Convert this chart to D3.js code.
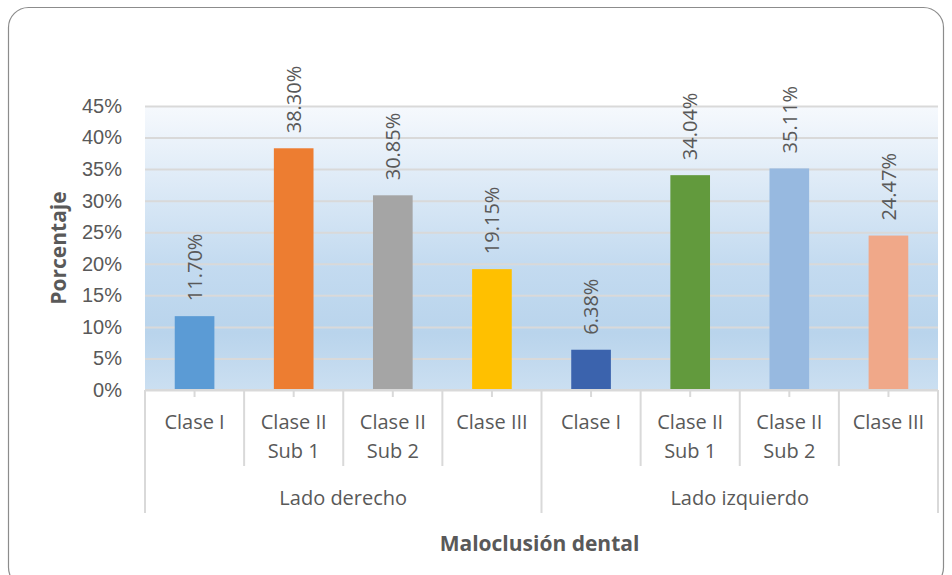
<!DOCTYPE html>
<html>
<head>
<meta charset="utf-8">
<script src="https://cdn.jsdelivr.net/npm/d3@7"></script>
<style>
  body { margin: 0; background: #fff; }
  svg { display: block; font-family: "Open Sans", sans-serif; }
</style>
</head>
<body>
<svg id="chart" width="952" height="575"></svg>
<script>
// datos de la figura
const groups = ["Lado derecho", "Lado izquierdo"];
const categories = ["Clase I", "Clase II|Sub 1", "Clase II|Sub 2", "Clase III"];
const values = [11.70, 38.30, 30.85, 19.15, 6.38, 34.04, 35.11, 24.47];
const yTicks = [0, 5, 10, 15, 20, 25, 30, 35, 40, 45];
const barColors = ["#5B9BD5", "#ED7D31", "#A5A5A5", "#FFC000",
                   "#3B63AD", "#629A3D", "#97B9E0", "#F0A889"];

const width = 952, height = 575;
const margin = {top: 106, right: 14, bottom: 185, left: 145};
const textColor = "#595959", lineColor = "#D9D9D9";

const svg = d3.select("#chart");

// borde redondeado del área de gráfico
svg.append("rect")
    .attr("x", 8.5).attr("y", 7.5)
    .attr("width", 935).attr("height", 580)
    .attr("rx", 20).attr("ry", 20)
    .attr("fill", "#fff")
    .attr("stroke", "#8c8c8c").attr("stroke-width", 1.2);

const rows = groups.flatMap((g, gi) => categories.map((c, ci) => ({
  key: g + "/" + c, group: g, cat: c, value: values[gi * categories.length + ci]
})));

const x = d3.scaleBand()
    .domain(rows.map(d => d.key))
    .range([margin.left, width - margin.right])
    .paddingInner(0.6)
    .paddingOuter(0.3);

const y = d3.scaleLinear()
    .domain([0, 45])
    .range([height - margin.bottom, margin.top]);

const x0 = margin.left, x1 = width - margin.right;
const y0 = y(0);

// fondo degradado del área de trazado
const grad = svg.append("defs").append("linearGradient")
    .attr("id", "bg").attr("x1", 0).attr("y1", 0).attr("x2", 0).attr("y2", 1);
grad.append("stop").attr("offset", "0%").attr("stop-color", "#F6F9FD");
grad.append("stop").attr("offset", "55%").attr("stop-color", "#C4DBF0");
grad.append("stop").attr("offset", "80%").attr("stop-color", "#B9D4EC");
grad.append("stop").attr("offset", "100%").attr("stop-color", "#CBDFF1");

svg.append("rect")
    .attr("x", x0).attr("y", y(45))
    .attr("width", x1 - x0).attr("height", y0 - y(45))
    .attr("fill", "url(#bg)");

// líneas de división + etiquetas del eje Y
const yAxis = svg.append("g")
    .attr("transform", `translate(${x0},0)`)
    .call(d3.axisLeft(y).tickValues(yTicks).tickSize(-(x1 - x0)).tickPadding(23)
      .tickFormat(d => d + "%"));
yAxis.select(".domain").remove();
yAxis.selectAll(".tick line").attr("stroke", lineColor).attr("stroke-width", 2);
yAxis.selectAll(".tick text")
    .attr("fill", textColor).style("font-size", "20px");

// barras
svg.append("g").selectAll("rect")
  .data(rows)
  .join("rect")
    .attr("x", d => x(d.key))
    .attr("y", d => y(d.value))
    .attr("width", x.bandwidth())
    .attr("height", d => y0 - y(d.value))
    .attr("fill", (d, i) => barColors[i]);

// etiquetas de datos
svg.append("g").selectAll("text")
  .data(rows)
  .join("text")
    .attr("transform", d => `translate(${x(d.key) + x.bandwidth() / 2},${y(d.value) - 15}) rotate(-90)`)
    .attr("dy", "0.36em")
    .attr("fill", textColor)
    .style("font-size", "20px")
    .text(d => d.value.toFixed(2) + "%");

// eje de categorías multinivel
const step = x.step();
const axis = svg.append("g").attr("stroke", lineColor).attr("stroke-width", 2);
axis.append("line")
    .attr("x1", x0).attr("x2", x1).attr("y1", y0).attr("y2", y0);
rows.forEach((d, i) => {
  const left = x0 + i * step;
  const center = left + step / 2;
  // separadores de categoría
  if (i % categories.length !== 0)
    axis.append("line").attr("x1", left).attr("x2", left).attr("y1", y0).attr("y2", y0 + 76);
  // marcas centrales
  axis.append("line").attr("x1", center).attr("x2", center).attr("y1", y0).attr("y2", y0 + 7);
});
d3.range(groups.length + 1).forEach(gi => {
  const xx = x0 + gi * categories.length * step;
  axis.append("line").attr("x1", xx).attr("x2", xx).attr("y1", y0).attr("y2", y0 + 123);
});

const catLabels = svg.append("g").attr("fill", textColor).style("font-size", "20px")
    .attr("text-anchor", "middle");
catLabels.selectAll("text")
  .data(rows)
  .join("text")
    .attr("x", d => x(d.key) + x.bandwidth() / 2)
    .attr("y", y0 + 39)
    .each(function(d) {
      const t = d3.select(this);
      d.cat.split("|").forEach((line, li) => {
        t.append("tspan")
          .attr("x", x(d.key) + x.bandwidth() / 2)
          .attr("dy", li === 0 ? 0 : 29)
          .text(line);
      });
    });

svg.append("g").attr("fill", textColor).style("font-size", "20px")
    .attr("text-anchor", "middle")
  .selectAll("text")
  .data(groups)
  .join("text")
    .attr("x", (d, gi) => x0 + (gi + 0.5) * categories.length * step)
    .attr("y", y0 + 115)
    .text(d => d);

// títulos de ejes
svg.append("text")
    .attr("x", (x0 + x1) / 2 - 2).attr("y", 551)
    .attr("text-anchor", "middle")
    .attr("fill", textColor)
    .style("font-size", "21px").style("font-weight", "bold")
    .text("Maloclusión dental");

svg.append("text")
    .attr("transform", `translate(66,${(y(45) + y0) / 2}) rotate(-90)`)
    .attr("text-anchor", "middle")
    .attr("fill", textColor)
    .style("font-size", "21px").style("font-weight", "bold")
    .text("Porcentaje");
</script>
</body>
</html>
